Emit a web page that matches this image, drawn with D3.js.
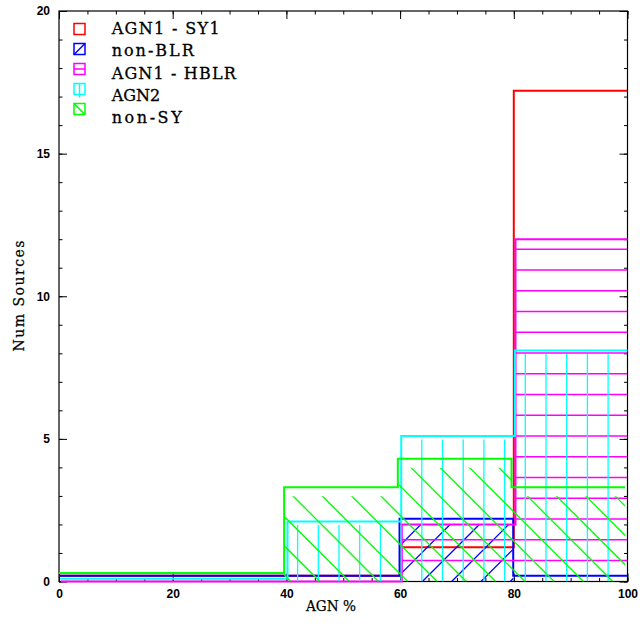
<!DOCTYPE html>
<html><head><meta charset="utf-8">
<script src="https://cdn.jsdelivr.net/npm/d3@7/dist/d3.min.js"></script>
<style>body{margin:0;background:#fff}svg{display:block}</style>
</head><body><svg id="c" width="642" height="627"></svg>
<script>
// ---- data ----
const binEdges = [0, 20, 40, 60, 80, 100];
const seriesNames = ["AGN1 - SY1", "non-BLR", "AGN1 - HBLR", "AGN2", "non-SY"];
const agn1Sy1  = [0.2, 0.2, 0.2, 1.2, 17.2];
const nonBlr   = [0.2, 0.2, 0.2, 2.2, 0.2];
const agn1Hblr = [0, 0, 0, 2, 12];
const agn2     = [0.1, 0.1, 2.1, 5.1, 8.1];
const nonSy    = [0.3, 0.3, 3.3, 4.3, 3.3];
const binShift = [0, -0.1, 0.3, 0.2, -0.4];   // small horizontal offsets per series (AGN % units)
const xMajorTicks = [0, 20, 40, 60, 80, 100];
const yMajorTicks = [0, 5, 10, 15, 20];
const xLabel = "AGN %";
const yLabel = "Num Sources";

// ---- style ----
const colors  = ["#ff0000", "#0000ff", "#ff00ff", "#00ffff", "#00ff00"];
const hatches = ["none", "slash", "horiz", "vert", "backslash"];
const hatchInset = [0, 6, 0, 3.5, 9];
const legendTextLen = [108, 82, 124, null, 70];

const values = [agn1Sy1, nonBlr, agn1Hblr, agn2, nonSy];
const L = 59, R = 627.5, T = 11, B = 581.5;
const x = d3.scaleLinear().domain([0, 100]).range([L, R]);
const y = d3.scaleLinear().domain([0, 20]).range([B, T]);

const svg = d3.select("#c");
const defs = svg.append("defs");

// ---- axes ----
const tickFont = "bold 12px 'Liberation Sans', Arial, sans-serif";
function styleAxis(g, showText) {
  g.select(".domain").remove();
  g.selectAll(".tick line").attr("stroke", "#000").attr("stroke-width", 1);
  if (!showText) g.selectAll(".tick text").remove();
  else g.selectAll(".tick text").style("font", tickFont).attr("fill", "#000");
}
const xMinor = d3.range(0, 101, 5), yMinor = d3.range(0, 21, 1);
svg.append("g").attr("transform", `translate(0,${B})`)
  .call(d3.axisBottom(x).tickValues(xMinor).tickSize(-3.5).tickFormat("")).call(g => styleAxis(g, false));
svg.append("g").attr("transform", `translate(0,${B})`)
  .call(d3.axisBottom(x).tickValues(xMajorTicks).tickSize(-8).tickPadding(7.5).tickFormat(d3.format("d"))).call(g => styleAxis(g, true));
svg.append("g").attr("transform", `translate(0,${T})`)
  .call(d3.axisTop(x).tickValues(xMinor).tickSize(-3.5).tickFormat("")).call(g => styleAxis(g, false));
svg.append("g").attr("transform", `translate(0,${T})`)
  .call(d3.axisTop(x).tickValues(xMajorTicks).tickSize(-8).tickFormat("")).call(g => styleAxis(g, false));
svg.append("g").attr("transform", `translate(${L},0)`)
  .call(d3.axisLeft(y).tickValues(yMinor).tickSize(-3.5).tickFormat("")).call(g => styleAxis(g, false));
svg.append("g").attr("transform", `translate(${L},0)`)
  .call(d3.axisLeft(y).tickValues(yMajorTicks).tickSize(-8).tickPadding(9).tickFormat(d3.format("d"))).call(g => styleAxis(g, true));
svg.append("g").attr("transform", `translate(${R},0)`)
  .call(d3.axisRight(y).tickValues(yMinor).tickSize(-3.5).tickFormat("")).call(g => styleAxis(g, false));
svg.append("g").attr("transform", `translate(${R},0)`)
  .call(d3.axisRight(y).tickValues(yMajorTicks).tickSize(-8).tickFormat("")).call(g => styleAxis(g, false));
svg.append("rect").attr("x", L).attr("y", T).attr("width", R - L).attr("height", B - T)
  .attr("fill", "none").attr("stroke", "#000").attr("stroke-width", 1.2);

const labelFont = "14px 'DejaVu Serif', serif";
svg.append("text").attr("x", 331).attr("y", 611).attr("text-anchor", "middle")
  .attr("textLength", 50).attr("lengthAdjust", "spacingAndGlyphs")
  .style("font", labelFont).attr("stroke", "#000").attr("stroke-width", 0.25).text(xLabel);
svg.append("text").attr("transform", "translate(23.5,296) rotate(-90)").attr("text-anchor", "middle")
  .attr("textLength", 111).attr("lengthAdjust", "spacing")
  .style("font", labelFont).attr("stroke", "#000").attr("stroke-width", 0.25).text(yLabel);

// ---- plot clip ----
defs.append("clipPath").attr("id", "plotClip").append("rect")
  .attr("x", L).attr("y", T - 2).attr("width", R - L).attr("height", B - T + 4);

// ---- hatch line generators (pixel space over whole plot) ----
function hatchLines(type) {
  const lines = [];
  const sp = 20.7, dsp = sp * Math.SQRT2;
  if (type === "horiz") {
    for (let yy = B - 21; yy > T; yy -= 20.75) lines.push([L, yy, R, yy]);
  } else if (type === "vert") {
    for (let xx = L + 10.9; xx < R; xx += sp) lines.push([xx, T, xx, B]);
  } else if (type === "slash") {      // x + y = c
    for (let c = L + B + 12.1 - dsp * 40; c < R + B + dsp; c += dsp)
      lines.push([c - B, B, c - T, T]);
  } else if (type === "backslash") {  // x - y = c
    for (let c = L - B + 26.8 - dsp * 40; c < R - T + dsp; c += dsp)
      lines.push([c + T, T, c + B, B]);
  }
  return lines;
}

// ---- histograms ----
const plotG = svg.append("g").attr("clip-path", "url(#plotClip)");
const drawOrder = [0, 1, 2, 3, 4];
drawOrder.forEach(si => {
  const vals = values[si], sh = binShift[si], col = colors[si];
  const g = plotG.append("g");
  if (hatches[si] !== "none") {
    const cp = defs.append("clipPath").attr("id", "hc" + si);
    vals.forEach((v, i) => {
      const x0 = Math.max(x(binEdges[i] + sh), L), x1 = Math.min(x(binEdges[i + 1] + sh), R);
      const yt = y(v) + hatchInset[si], yb = y(0);
      if (yb - yt > 0) cp.append("rect").attr("x", x0).attr("y", yt).attr("width", x1 - x0).attr("height", yb - yt);
    });
    g.append("g").attr("clip-path", `url(#hc${si})`)
      .selectAll("line").data(hatchLines(hatches[si])).join("line")
      .attr("x1", d => d[0]).attr("y1", d => d[1]).attr("x2", d => d[2]).attr("y2", d => d[3])
      .attr("stroke", col).attr("stroke-width", 1.3);
  }
  const pts = [];
  vals.forEach((v, i) => {
    pts.push([x(binEdges[i] + sh), y(v)]);
    pts.push([x(binEdges[i + 1] + sh), y(v)]);
  });
  g.append("path").attr("d", d3.line()(pts)).attr("fill", "none")
    .attr("stroke", col).attr("stroke-width", 2);
});

// ---- legend ----
const leg = svg.append("g");
seriesNames.forEach((name, i) => {
  const bx = 74, by = 23.5 + 20 * i, s = 11, col = colors[i];
  const lg = leg.append("g");
  lg.append("rect").attr("x", bx).attr("y", by).attr("width", s).attr("height", s)
    .attr("fill", "none").attr("stroke", col).attr("stroke-width", 1.5);
  const h = hatches[i];
  let seg = null;
  if (h === "slash") seg = [bx, by + s, bx + s, by];
  else if (h === "backslash") seg = [bx, by, bx + s, by + s];
  else if (h === "horiz") seg = [bx, by + s / 2, bx + s, by + s / 2];
  else if (h === "vert") seg = [bx + s / 2, by, bx + s / 2, by + s + 3];
  if (seg) lg.append("line").attr("x1", seg[0]).attr("y1", seg[1]).attr("x2", seg[2]).attr("y2", seg[3])
    .attr("stroke", col).attr("stroke-width", 1.5);
  const t = lg.append("text").attr("x", 111.7).attr("y", 34 + 22.3 * i)
    .style("font", "16px 'DejaVu Serif', serif").attr("fill", "#000")
    .attr("stroke", "#000").attr("stroke-width", 0.3).text(name);
  if (legendTextLen[i]) t.attr("textLength", legendTextLen[i]).attr("lengthAdjust", "spacing");
});
</script></body></html>
